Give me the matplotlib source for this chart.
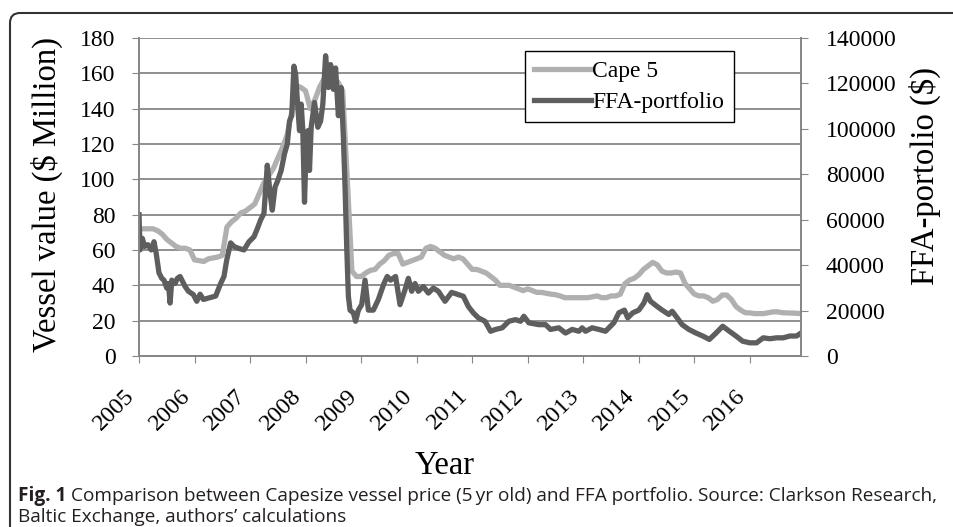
import numpy as np
import matplotlib
matplotlib.use('Agg')
import matplotlib.pyplot as plt
from matplotlib.path import Path
from matplotlib.patches import PathPatch

# Cape 5 vessel value, $ million, monthly Jan 2005 - Dec 2016
cape5 = [72, 72, 72, 72, 71, 69, 66, 64, 62, 61, 61, 60,
         54.4, 54, 53.5, 55, 55.5, 56, 57, 73, 76, 78, 81, 82,
         84, 86, 92, 98, 102, 106, 112, 118, 125, 138, 153, 152,
         150, 140, 145, 152, 157, 158, 157, 155, 150, 100, 48, 45,
         45, 47, 48.5, 49, 52, 54, 57, 58, 58, 52, 53, 54,
         55, 56, 61, 62, 61, 59, 57, 56, 55, 56, 55, 52,
         49, 49, 48, 47, 45, 43, 40, 40, 40, 39, 38, 37,
         38, 37, 36, 36, 35.5, 35, 34.7, 34, 33, 33, 33, 33,
         33, 33, 33.5, 34, 33, 33, 34, 34, 35, 41, 43, 44,
         46, 49, 51, 53, 51.6, 48, 47, 47, 47.5, 47, 41, 38,
         35, 34, 34, 33, 31, 32, 34.5, 34.5, 32, 28, 26, 24.5,
         24.4, 24, 24, 24, 24.5, 25, 25, 24.5, 24.4, 24.3, 24.2, 24]
cape_x = 2005 + np.arange(len(cape5)) / 12

# FFA portfolio value, $
ffa_x = [2005.00, 2005.02, 2005.06, 2005.10, 2005.16, 2005.22, 2005.27, 2005.31, 2005.36, 2005.41,
         2005.45, 2005.50, 2005.53, 2005.56, 2005.59, 2005.65, 2005.69, 2005.74, 2005.83, 2005.89, 2005.98,
         2006.04, 2006.10, 2006.16, 2006.28, 2006.38, 2006.47, 2006.53, 2006.58, 2006.65, 2006.71,
         2006.79, 2006.89, 2006.98,
         2007.07, 2007.13, 2007.19, 2007.25, 2007.31, 2007.36, 2007.40, 2007.45, 2007.50, 2007.56,
         2007.62, 2007.67, 2007.71, 2007.75, 2007.79, 2007.82, 2007.86, 2007.89, 2007.92, 2007.95, 2007.98,
         2008.01, 2008.04, 2008.07, 2008.10, 2008.16, 2008.22, 2008.27, 2008.31, 2008.36, 2008.41,
         2008.45, 2008.50, 2008.54, 2008.59, 2008.64, 2008.68, 2008.71, 2008.74, 2008.77, 2008.80,
         2008.86, 2008.90, 2008.95,
         2009.01, 2009.07, 2009.13, 2009.22, 2009.31, 2009.41, 2009.47, 2009.53, 2009.62, 2009.70,
         2009.79, 2009.85, 2009.91, 2009.97,
         2010.03, 2010.12, 2010.21, 2010.30, 2010.39, 2010.51, 2010.63, 2010.75, 2010.84, 2010.93,
         2011.02, 2011.11, 2011.23, 2011.33, 2011.42, 2011.54, 2011.66, 2011.78, 2011.87, 2011.93,
         2012.02, 2012.20, 2012.32, 2012.41, 2012.56, 2012.68, 2012.80, 2012.92, 2012.98,
         2013.04, 2013.16, 2013.28, 2013.40, 2013.55, 2013.64, 2013.74, 2013.80, 2013.89,
         2014.00, 2014.09, 2014.15, 2014.21, 2014.33, 2014.42, 2014.54, 2014.60, 2014.69, 2014.78, 2014.90,
         2015.03, 2015.15, 2015.27, 2015.39, 2015.51, 2015.63, 2015.75, 2015.87,
         2016.00, 2016.12, 2016.24, 2016.36, 2016.48, 2016.60, 2016.72, 2016.84, 2016.92]
ffa = [62200, 46700, 51800, 48200, 49000, 46700, 50300, 45100, 36600, 34200,
       33400, 29900, 31900, 23300, 33400, 31900, 34200, 35000, 30600, 28500, 27000,
       24100, 27200, 24900, 25700, 26400, 31900, 35000, 42300, 49800, 48200,
       47400, 46700, 50300,
       52500, 56000, 59900, 62800, 84000, 71600, 64200, 74400, 77300, 81700,
       89000, 93300, 103400, 105800, 127600, 124100, 109400, 99200, 110900, 99200, 67700,
       91800, 99200, 81700, 100700, 111600, 100700, 103400, 110900, 132200, 118200,
       128300, 117400, 126800, 105800, 118200, 96400, 74400, 48200, 26300, 20200,
       19000, 15300, 20200,
       22600, 33400, 20200, 20200, 24900, 31900, 35000, 33400, 35000, 22600,
       29200, 34200, 28500, 31900,
       28500, 30600, 27700, 29900, 28500, 24100, 28000, 27000, 26300, 21800,
       19000, 16800, 15300, 10900, 11700, 12400, 15300, 16000, 15300, 17500,
       14600, 13800, 13800, 11700, 12400, 10100, 11700, 10900, 12400,
       10900, 12400, 11700, 10900, 14600, 19000, 20200, 16800, 19000,
       20200, 23300, 27000, 24100, 21800, 20200, 18300, 19700, 16800, 13800, 11700,
       10100, 8800, 7300, 10100, 13100, 10900, 8800, 6500,
       5800, 5800, 8000, 7600, 8000, 8000, 8800, 8800, 10100]

years = list(range(2005, 2017))

plt.rcParams['font.family'] = 'Liberation Serif'
grid_col = '#878787'

fig = plt.figure(figsize=(9.54, 5.27), dpi=100)
W, H = 954, 527
ax = fig.add_axes([139 / W, 1 - 356 / H, (801 - 139) / W, (356 - 38) / H])
ax2 = ax.twinx()

l1, = ax.plot(cape_x, cape5, color='#b0b0b0', lw=3.8, solid_joinstyle='round')
l2, = ax2.plot(ffa_x, ffa, color='#5e5e5e', lw=3.8, solid_joinstyle='round')

ax.set_xlim(2005, 2016.92)
ax.set_ylim(0, 180)
ax.set_yticks(range(0, 181, 20))
ax2.set_ylim(0, 140000)
ax2.set_yticks(range(0, 140001, 20000))
ax.set_xticks(years)
ax.set_xticklabels([str(y) for y in years], rotation=45, ha='right', va='top')

ax.grid(axis='y', color=grid_col, lw=1.3)
ax.set_axisbelow(True)
for a in (ax, ax2):
    a.spines['top'].set_visible(False)
    for s in ('left', 'right', 'bottom'):
        a.spines[s].set_color(grid_col)
        a.spines[s].set_linewidth(1.3)
ax.tick_params(axis='y', length=5, color=grid_col, labelsize=17, pad=12)
ax.tick_params(axis='x', length=5, color=grid_col, labelsize=17.5, pad=16)
ax2.tick_params(axis='y', length=5, color=grid_col, labelsize=17, pad=13)

leg = ax2.legend([l1, l2], ['Cape 5', 'FFA-portfolio'], loc='upper left',
                 bbox_to_anchor=(0.583, 0.959), borderaxespad=0, fontsize=17,
                 fancybox=False, edgecolor='black', framealpha=1,
                 handlelength=2.4, handletextpad=0.05, labelspacing=0.4, borderpad=0.4)
leg.get_frame().set_linewidth(1.0)

title_font = dict(family='Liberation Serif', fontsize=23.5)
fig.text(47 / W, 1 - 195 / H, 'Vessel value ($ Million)', rotation=90,
         ha='center', va='center', **title_font)
fig.text(925 / W, 1 - 176 / H, 'FFA-portolio ($)', rotation=90,
         ha='center', va='center', **title_font)
fig.text(445 / W, 1 - 466 / H, 'Year', ha='center', va='center', **title_font)

# caption
cap_font = dict(family='Open Sans', fontsize=13.65, color='#231f20')
t0 = fig.text(18 / W, 1 - 501 / H, 'Fig. 1', fontweight='bold', **cap_font)
fig.canvas.draw()
bb = t0.get_window_extent()
fig.text((bb.x1 + 5) / W, 1 - 501 / H,
         'Comparison between Capesize vessel price (5\u2009yr old) and FFA portfolio. '
         'Source: Clarkson Research,', **cap_font)
fig.text(18 / W, 1 - 522 / H, 'Baltic Exchange, authors\u2019 calculations', **cap_font)

# frame with rounded top-left corner
pts = [(10, 527), (10, 23), (10, 13), (20, 13), (954, 13)]
verts = [(x / W, 1 - y / H) for x, y in pts]
codes = [Path.MOVETO, Path.LINETO, Path.CURVE3, Path.CURVE3, Path.LINETO]
fig.add_artist(PathPatch(Path(verts, codes), transform=fig.transFigure,
                         fill=False, edgecolor='#333333', lw=1.5))

fig.savefig('out.png', dpi=100)
